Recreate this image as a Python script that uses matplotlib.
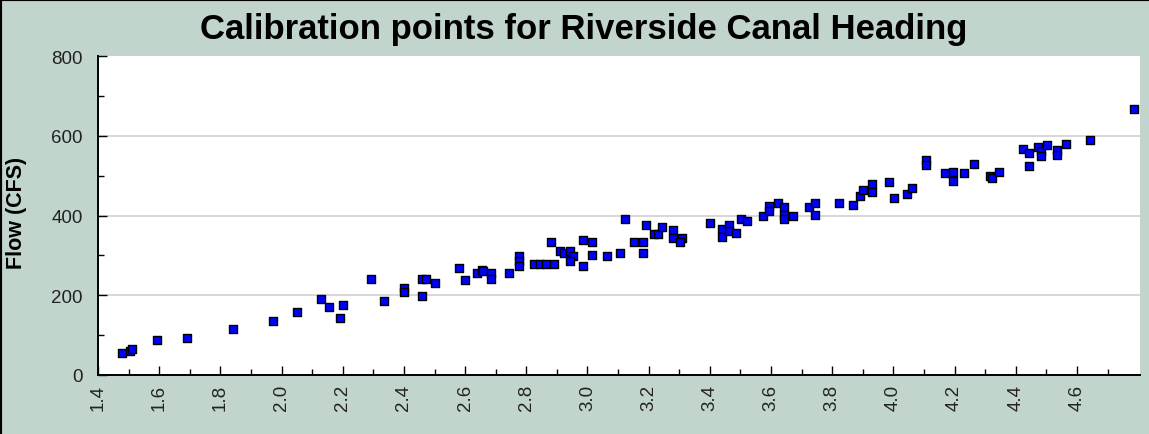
import matplotlib
matplotlib.use("Agg")
import matplotlib.pyplot as plt
from matplotlib.ticker import MultipleLocator, FixedLocator

# Gauge height (ft) and measured flow (CFS) at the canal heading
stage = [
    1.478, 1.505, 1.510, 1.594, 1.690, 1.841, 1.972, 2.051, 2.130, 2.154,
    2.190, 2.202, 2.292, 2.334, 2.401, 2.401, 2.460, 2.460, 2.473, 2.502,
    2.580, 2.600, 2.640, 2.654, 2.660, 2.684, 2.684, 2.744, 2.776, 2.776,
    2.776, 2.825, 2.845, 2.865, 2.890, 2.881, 2.910, 2.923, 2.943, 2.954,
    2.942, 2.986, 3.016, 2.986, 3.015, 3.063, 3.106, 3.123, 3.153, 3.183,
    3.183, 3.190, 3.218, 3.232, 3.244, 3.279, 3.279, 3.308, 3.303, 3.401,
    3.441, 3.441, 3.462, 3.462, 3.486, 3.502, 3.523, 3.575, 3.592, 3.592,
    3.622, 3.643, 3.643, 3.643, 3.673, 3.725, 3.743, 3.743, 3.822, 3.868,
    3.892, 3.900, 3.929, 3.929, 3.986, 4.002, 4.046, 4.062, 4.107, 4.107,
    4.167, 4.196, 4.196, 4.232, 4.263, 4.316, 4.323, 4.346, 4.423, 4.443,
    4.443, 4.472, 4.483, 4.483, 4.501, 4.534, 4.534, 4.563, 4.642, 4.787,
]
flow = [
    55, 60, 65, 88, 93, 115, 135, 157, 190, 171,
    144, 176, 241, 185, 218, 207, 199, 241, 241, 231,
    268, 237, 256, 264, 261, 256, 241, 255, 298, 285,
    273, 278, 278, 278, 278, 334, 310, 306, 310, 298,
    286, 339, 334, 273, 302, 299, 306, 390, 334, 334,
    306, 375, 353, 353, 371, 363, 343, 343, 333, 380,
    366, 347, 376, 362, 357, 390, 385, 399, 423, 411,
    432, 422, 402, 391, 399, 422, 431, 402, 431, 426,
    450, 464, 478, 460, 483, 444, 454, 468, 540, 527,
    506, 510, 487, 506, 529, 500, 494, 510, 567, 556,
    523, 571, 561, 550, 577, 565, 551, 580, 589, 666,
]

x_ticks = [1.4, 1.6, 1.8, 2.0, 2.2, 2.4, 2.6, 2.8, 3.0, 3.2, 3.4, 3.6, 3.8, 4.0, 4.2, 4.4, 4.6]
y_ticks = [0, 200, 400, 600, 800]
title = "Calibration points for Riverside Canal Heading"
y_label = "Flow (CFS)"

bg = "#c1d5cd"
fig = plt.figure(figsize=(11.49, 4.35), dpi=100, facecolor=bg)
ax = fig.add_axes([98 / 1149, 1 - 376 / 435, (1140 - 98) / 1149, (376 - 57) / 435])
ax.set_facecolor("white")

ax.scatter(stage, flow, marker="s", s=6.0 ** 2, facecolor="#0000ff",
           edgecolor="black", linewidth=1.0, zorder=3)

ax.set_xlim(1.4, 4.806)
ax.set_ylim(0, 800)
ax.xaxis.set_major_locator(FixedLocator(x_ticks))
ax.xaxis.set_minor_locator(FixedLocator([t + 0.1 for t in x_ticks]))
ax.yaxis.set_major_locator(FixedLocator(y_ticks))
ax.yaxis.set_minor_locator(MultipleLocator(100))
ax.set_xticklabels([f"{t:.1f}" for t in x_ticks], rotation=90,
                   family="Liberation Sans", fontsize=13.5, color="#222222")
ax.set_yticklabels([str(t) for t in y_ticks], family="Liberation Sans",
                   fontsize=13.5, color="#222222")

ax.tick_params(axis="both", which="major", direction="in", length=6.5, width=1.0, color="black")
ax.tick_params(axis="both", which="minor", direction="in", length=4, width=1.0, color="black")
ax.tick_params(axis="y", which="major", pad=11)
ax.tick_params(axis="x", which="major", pad=6.5)

for side in ("top", "right"):
    ax.spines[side].set_visible(False)
for side in ("left", "bottom"):
    ax.spines[side].set_linewidth(1.4)
    ax.spines[side].set_color("black")

for v in (200, 400, 600):
    ax.axhline(v, color="#d4d4d4", linewidth=1.3, zorder=1)

fig.text(584 / 1149, 1 - 30 / 435, title, ha="center", va="center",
         family="Liberation Sans", fontweight="bold", fontsize=25)
fig.text(17 / 1149, 1 - 213 / 435, y_label, ha="center", va="center", rotation=90,
         family="Liberation Sans", fontweight="bold", fontsize=15.5)

# dark frame along the top and left edges of the panel
fig.add_artist(plt.Line2D([0, 1], [1, 1], transform=fig.transFigure, color="black", linewidth=3))
fig.add_artist(plt.Line2D([0, 0], [0, 1], transform=fig.transFigure, color="black", linewidth=3))

fig.savefig("out.png", dpi=100, facecolor=bg)
